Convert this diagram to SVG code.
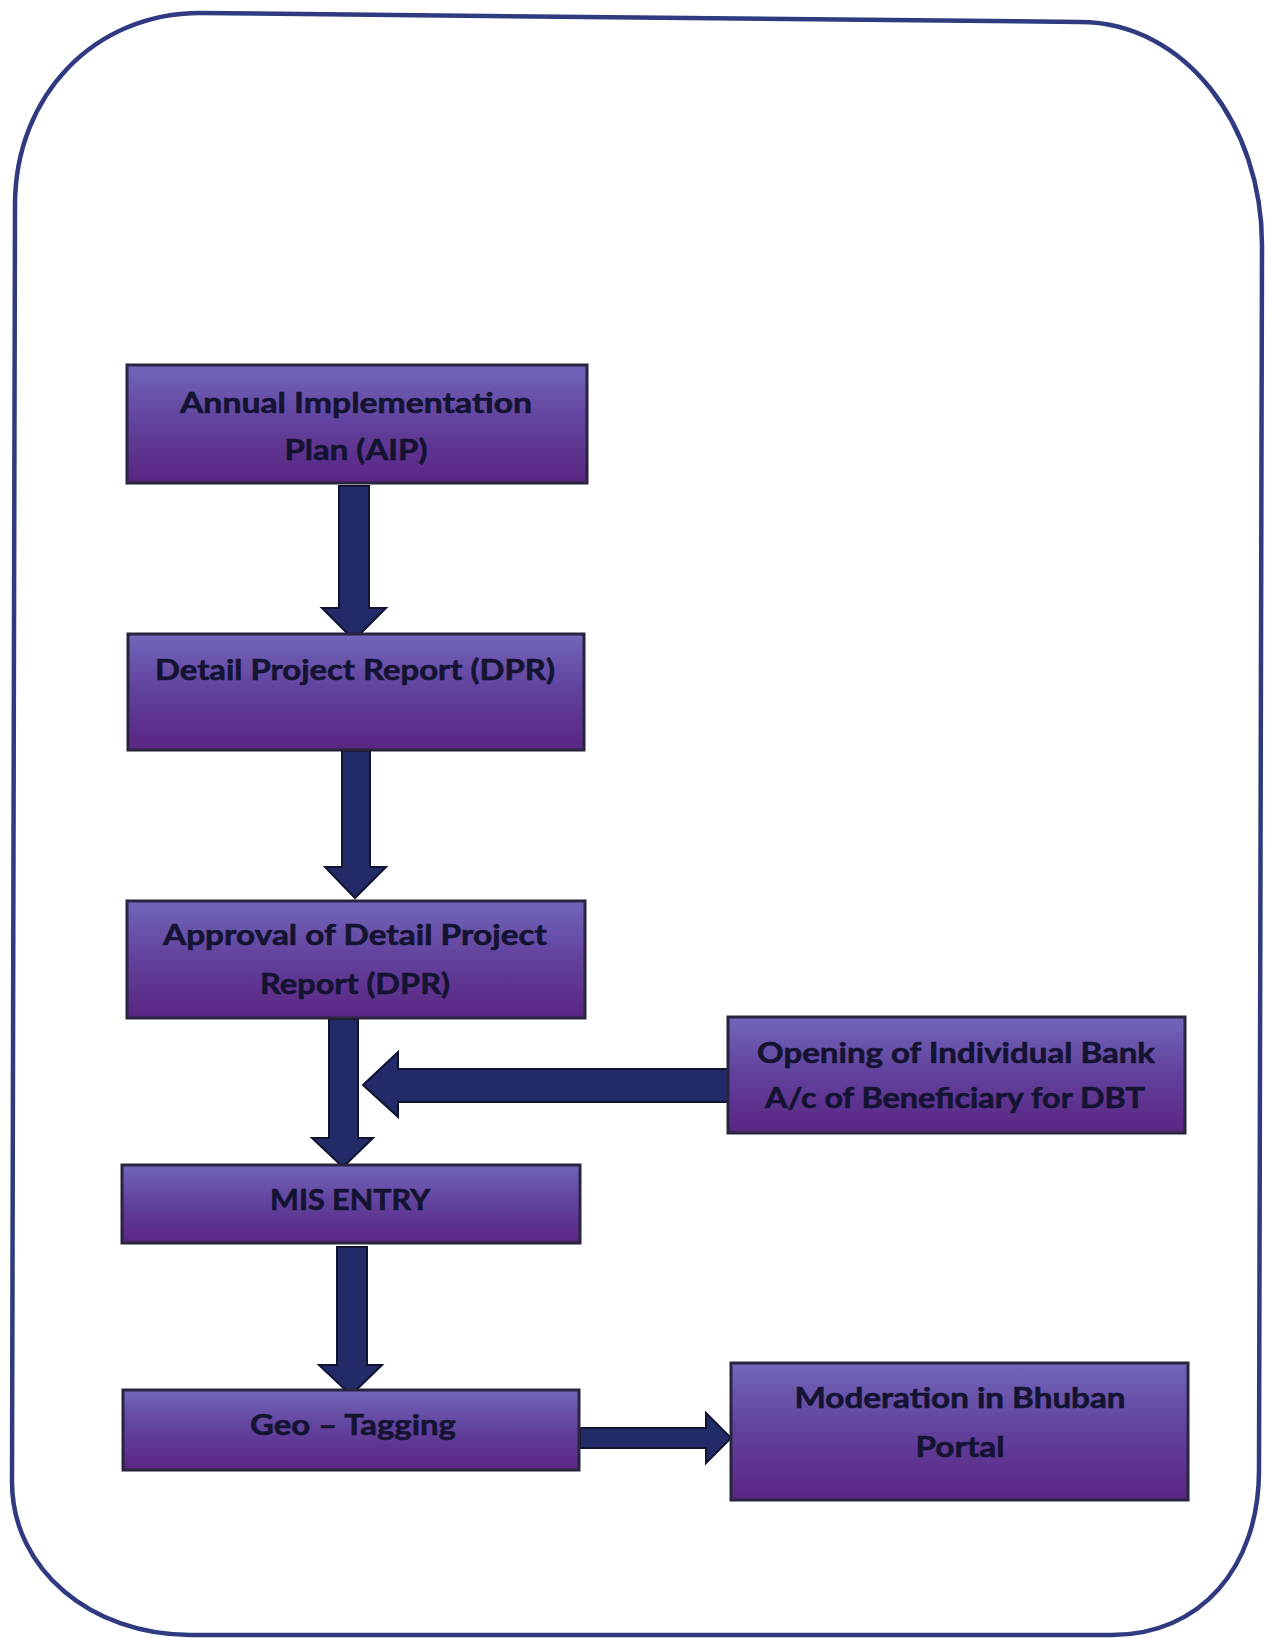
<svg xmlns="http://www.w3.org/2000/svg" width="1265" height="1638" viewBox="0 0 1265 1638">
<defs>
<linearGradient id="boxFill" x1="0" y1="0" x2="0" y2="1">
<stop offset="0" stop-color="#7266bb"/>
<stop offset="0.45" stop-color="#62449f"/>
<stop offset="1" stop-color="#5a2582"/>
</linearGradient>
<style>
.box{fill:url(#boxFill);stroke:#29253f;stroke-width:3}
.lbl{font-family:Lato,"Open Sans","Liberation Sans",sans-serif;font-weight:bold;font-size:29px;fill:#141432;stroke:#141432;stroke-width:0.6;text-anchor:middle}
.arrow{fill:#222a68;stroke:#101430;stroke-width:2;stroke-linejoin:miter}
.frame{fill:none;stroke:#2f3a80;stroke-width:4.5}
</style>
</defs>
<rect width="1265" height="1638" fill="#ffffff"/>
<path class="frame" d="M15,205 C15,95 95,13 200,13 L1080,22 C1185,22 1262,125 1262,245 L1259,1470 C1259,1568 1200,1635 1112,1635 L190,1635 C92,1635 12,1570 12,1482 Z"/>
<g id="connectors">
<polygon class="arrow" points="339,486 369,486 369,608 386,608 354,640 322,608 339,608"/>
<polygon class="arrow" points="342,751 370,751 370,867 386,867 355,898 325,867 342,867"/>
<polygon class="arrow" points="329,1019 358,1019 358,1138 373,1138 343,1167 312,1138 329,1138"/>
<polygon class="arrow" points="337,1247 367,1247 367,1365 382,1365 351,1395 319,1365 337,1365"/>
<polygon class="arrow" points="728,1069 398,1069 398,1052 363,1085 398,1117 398,1102 728,1102"/>
<polygon class="arrow" points="580,1428 706,1428 706,1413 731,1438 706,1463 706,1448 580,1448"/>
</g>
<g id="node-aip">
<rect class="box" x="127" y="365" width="460" height="118"/>
<text class="lbl" x="356" y="413" textLength="352" lengthAdjust="spacingAndGlyphs">Annual Implementation</text>
<text class="lbl" x="356" y="460" textLength="143" lengthAdjust="spacingAndGlyphs">Plan (AIP)</text>
</g>
<g id="node-dpr">
<rect class="box" x="128" y="634" width="456" height="116"/>
<text class="lbl" x="355" y="680" textLength="400" lengthAdjust="spacingAndGlyphs">Detail Project Report (DPR)</text>
</g>
<g id="node-approval">
<rect class="box" x="127" y="901" width="458" height="117"/>
<text class="lbl" x="355" y="945" textLength="384" lengthAdjust="spacingAndGlyphs">Approval of Detail Project</text>
<text class="lbl" x="355" y="994" textLength="190" lengthAdjust="spacingAndGlyphs">Report (DPR)</text>
</g>
<g id="node-mis">
<rect class="box" x="122" y="1165" width="458" height="78"/>
<text class="lbl" x="350" y="1210" textLength="160" lengthAdjust="spacingAndGlyphs">MIS ENTRY</text>
</g>
<g id="node-geo">
<rect class="box" x="123" y="1390" width="456" height="80"/>
<text class="lbl" x="353" y="1435" textLength="206" lengthAdjust="spacingAndGlyphs">Geo – Tagging</text>
</g>
<g id="node-bank">
<rect class="box" x="728" y="1017" width="457" height="116"/>
<text class="lbl" x="956" y="1063" textLength="398" lengthAdjust="spacingAndGlyphs">Opening of Individual Bank</text>
<text class="lbl" x="955" y="1108" textLength="380" lengthAdjust="spacingAndGlyphs">A/c of Beneficiary for DBT</text>
</g>
<g id="node-moderation">
<rect class="box" x="731" y="1363" width="457" height="137"/>
<text class="lbl" x="960" y="1408" textLength="331" lengthAdjust="spacingAndGlyphs">Moderation in Bhuban</text>
<text class="lbl" x="960" y="1457" textLength="89" lengthAdjust="spacingAndGlyphs">Portal</text>
</g>
</svg>
